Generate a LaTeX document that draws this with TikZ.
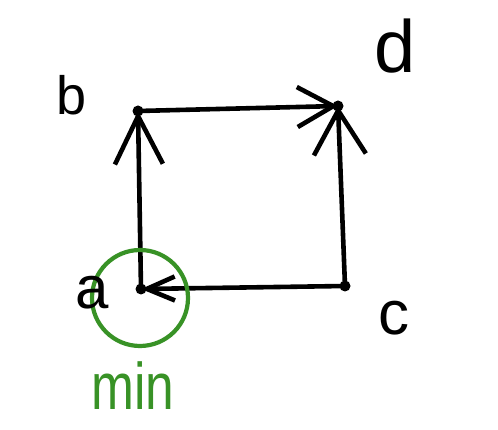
\documentclass[tikz,border=0pt]{standalone}
\usepackage{fontspec}
\setmainfont{Liberation Sans}
\usetikzlibrary{arrows.meta}
\definecolor{pengreen}{RGB}{56,146,38}
\tikzset{
  edge/.style={line width=4.6pt, line cap=round, line join=round, black},
  lbl/.style={inner sep=0pt, font=\fontsize{60}{60}\selectfont},
  dotv/.style={fill=black}
}
\begin{document}
\begin{tikzpicture}[x=1pt,y=-1pt]
\useasboundingbox (0,0) rectangle (498,430);
\coordinate (a) at (141,289);
\coordinate (b) at (138,111);
\coordinate (d) at (338,106);
\coordinate (c) at (345,286);
% edges
\draw[edge, -{Straight Barb[length=48pt,width=48pt,line width=4.6pt]}] (a) -- (b);
\draw[edge, -{Straight Barb[length=36pt,width=40pt,line width=4.6pt]}] (b) -- (d);
\draw[edge, -{Straight Barb[length=44pt,width=52pt,line width=4.6pt]}] (c) -- (d);
\draw[edge, -{Straight Barb[length=28pt,width=24pt,line width=4.6pt]}] (c) -- (a);
% dots
\foreach \p in {a,b,c,d} \fill[dotv] (\p) circle (5.5pt);
% green circle
\node[draw=pengreen, line width=4.2pt, circle, minimum size=96pt, inner sep=0pt] (ring) at (140,298) {};
% labels
\node[lbl, font=\fontsize{54}{54}\selectfont] (lb) at (72,95) {b};
\node[lbl] (la) at (92,293) {a};
\node[lbl, font=\fontsize{62}{62}\selectfont] (lc) at (394,318) {c};
\node[lbl, font=\fontsize{74}{74}\selectfont] (ld) at (395,46) {d};
\node[lbl, text=pengreen, font=\fontsize{66}{66}\selectfont, xscale=0.78] (lmin) at (133,386) {min};
\end{tikzpicture}
\end{document}
